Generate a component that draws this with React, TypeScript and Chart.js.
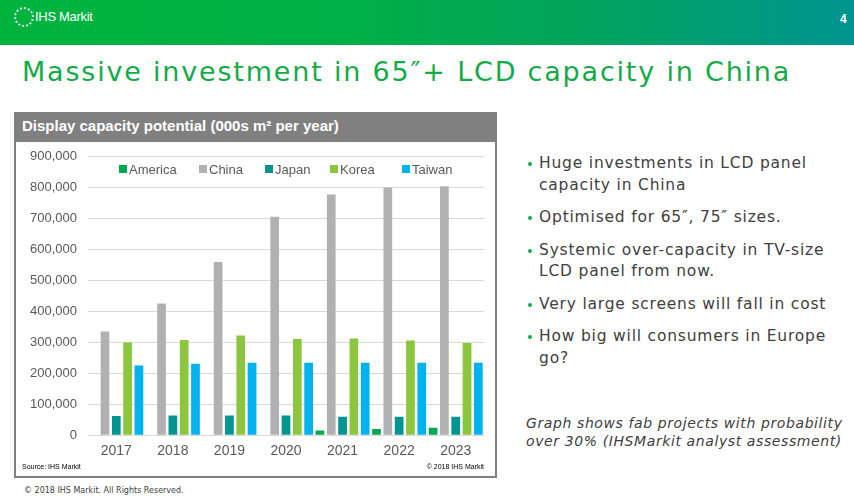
import React, { useEffect, useRef } from "react";
import { Chart, registerables } from "chart.js";

Chart.register(...registerables);

const years = ["2017", "2018", "2019", "2020", "2021", "2022", "2023"];
const america = [0, 0, 0, 0, 15000, 20000, 24000];
const china = [335000, 426000, 560000, 706000, 778000, 801000, 805000];
const japan = [62000, 64000, 64000, 64000, 60000, 60000, 60000];
const korea = [300000, 308000, 322000, 311000, 313000, 306000, 298000];
const taiwan = [225000, 231000, 234000, 234000, 234000, 234000, 234000];

const seriesNames = ["America", "China", "Japan", "Korea", "Taiwan"];
const seriesColors = ["#00a94f", "#b1b1b4", "#00968f", "#8cc63f", "#00b2ee"];

const bullets = [
  ["Huge investments in LCD panel", "capacity in China"],
  ["Optimised for 65\u2033, 75\u2033 sizes."],
  ["Systemic over-capacity in TV-size", "LCD panel from now."],
  ["Very large screens will fall in cost"],
  ["How big will consumers in Europe", "go?"],
];

export default function App() {
  const ref = useRef<HTMLCanvasElement | null>(null);

  useEffect(() => {
    document.body.style.margin = "0";
    const values = [america, china, japan, korea, taiwan];
    const chart = new Chart(ref.current!, {
      type: "bar",
      data: {
        labels: years,
        datasets: seriesNames.map((n, i) => ({
          label: n,
          data: values[i],
          backgroundColor: seriesColors[i],
          borderWidth: 0,
          categoryPercentage: 1.0,
          barPercentage: 0.77,
        })),
      },
      options: {
        animation: false,
        responsive: false,
        maintainAspectRatio: false,
        layout: { padding: { top: 5, right: 10, bottom: 8, left: 0 } },
        plugins: { legend: { display: false }, tooltip: { enabled: false } },
        scales: {
          x: {
            grid: { display: false },
            border: { display: false },
            ticks: {
              color: "#595959",
              font: { family: "'Liberation Sans', Arial, sans-serif", size: 14 },
              padding: 0,
            },
          },
          y: {
            min: 0,
            max: 900000,
            afterFit: (s: any) => {
              s.width = 72;
            },
            grid: { color: "#d9d9d9", drawTicks: false, lineWidth: 1 },
            border: { display: false },
            ticks: {
              stepSize: 100000,
              color: "#595959",
              padding: 11,
              font: { family: "'Liberation Sans', Arial, sans-serif", size: 13 },
              callback: (v: any) => Number(v).toLocaleString("en-US"),
            },
          },
        },
      },
    });
    return () => chart.destroy();
  }, []);

  const legendX = [119, 199, 265, 330, 402];

  return (
    <div style={{ position: "absolute", left: 0, top: 0, width: 854, height: 502, background: "#fff", overflow: "hidden", fontFamily: "'DejaVu Sans', Verdana, sans-serif" }}>
      {/* header */}
      <div style={{ position: "absolute", left: 0, top: 0, width: 854, height: 45, background: "linear-gradient(90deg, #00b33d 0%, #00af45 40%, #02a35e 70%, #009490 100%)" }} />
      <div style={{ position: "absolute", left: 14, top: 7, width: 20, height: 20, borderRadius: 10, border: "2px dotted rgba(255,255,255,0.9)", boxSizing: "border-box" }} />
      <div style={{ position: "absolute", left: 35, top: 9, color: "#fff", fontFamily: "'Liberation Sans', Arial, sans-serif", fontSize: 13, letterSpacing: -0.3 }}>IHS Markit</div>
      <div style={{ position: "absolute", left: 840, top: 12, color: "#fff", fontFamily: "'Liberation Sans', Arial, sans-serif", fontSize: 12, fontWeight: "bold" }}>4</div>

      {/* title */}
      <div style={{ position: "absolute", left: 22, top: 56, color: "#13ab48", fontSize: 27, letterSpacing: 1.8, whiteSpace: "nowrap", fontFamily: "'DejaVu Sans', sans-serif" }}>
        Massive investment in 65{"\u2033"}+ LCD capacity in China
      </div>

      {/* chart frame */}
      <div style={{ position: "absolute", left: 14, top: 112, width: 483, height: 366, border: "2px solid #808080", boxSizing: "border-box" }} />
      <div style={{ position: "absolute", left: 14, top: 112, width: 483, height: 30, background: "#808080" }} />
      <div style={{ position: "absolute", left: 22, top: 117, color: "#fff", fontFamily: "'Liberation Sans', Arial, sans-serif", fontWeight: "bold", fontSize: 15, whiteSpace: "nowrap" }}>
        Display capacity potential (000s m{"\u00b2"} per year)
      </div>
      <canvas ref={ref} width={478} height={330} style={{ position: "absolute", left: 16, top: 138, width: 478, height: 330 }} />
      {seriesNames.map((n, i) => (
        <div key={n} style={{ position: "absolute", left: legendX[i], top: 161, height: 16, display: "flex", alignItems: "center", fontFamily: "'Liberation Sans', Arial, sans-serif", fontSize: 13, color: "#595959", whiteSpace: "nowrap" }}>
          <span style={{ display: "inline-block", width: 8, height: 8, background: seriesColors[i], marginRight: 2 }} />
          {n}
        </div>
      ))}
      <div style={{ position: "absolute", left: 22, top: 463, fontFamily: "'Liberation Sans', Arial, sans-serif", fontSize: 7, color: "#000" }}>Source: IHS Markit</div>
      <div style={{ position: "absolute", left: 420, width: 64, textAlign: "right", top: 463, fontFamily: "'Liberation Sans', Arial, sans-serif", fontSize: 7, color: "#000" }}>{"\u00a9"} 2018 IHS Markit</div>

      {/* bullets */}
      <div style={{ position: "absolute", left: 526, top: 153, color: "#404040", fontSize: 15.5, letterSpacing: 0.8, lineHeight: "21.5px" }}>
        {bullets.map((b, i) => (
          <div key={i} style={{ position: "relative", paddingLeft: 13, marginBottom: 11, whiteSpace: "nowrap" }}>
            <span style={{ position: "absolute", left: 2, top: 9, width: 4, height: 4, borderRadius: 2, background: "#13ab48" }} />
            {b.map((l, j) => (
              <div key={j}>{l}</div>
            ))}
          </div>
        ))}
      </div>

      <div style={{ position: "absolute", left: 526, top: 414, color: "#404040", fontSize: 14, letterSpacing: 0.6, fontStyle: "italic", lineHeight: "18px", whiteSpace: "nowrap" }}>
        <div>Graph shows fab projects with probability</div>
        <div>over 30% (IHSMarkit analyst assessment)</div>
      </div>

      <div style={{ position: "absolute", left: 24, top: 486, color: "#404040", fontSize: 8, whiteSpace: "nowrap" }}>
        {"\u00a9"} 2018 IHS Markit. All Rights Reserved.
      </div>
    </div>
  );
}
